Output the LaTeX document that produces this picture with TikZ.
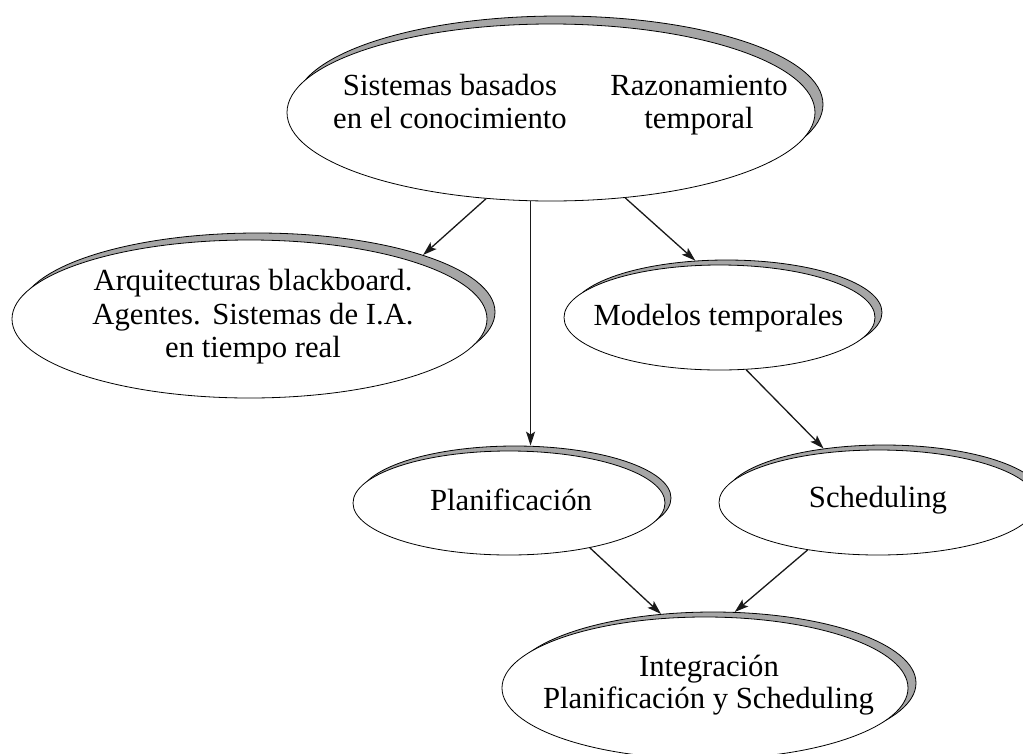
\documentclass[tikz,border=0pt]{standalone}
\usepackage{fontspec}
\setmainfont{Liberation Serif}
\usetikzlibrary{arrows.meta,shapes.geometric}
\begin{document}
\begin{tikzpicture}[x=1pt,y=-1pt,
  ell/.style={ellipse, draw=black, line width=0.8pt, fill=white, inner sep=0pt},
  shd/.style={ellipse, draw=black, line width=0.8pt, fill=gray!70, inner sep=0pt},
  lbl/.style={anchor=base, inner sep=0pt, font=\fontsize{30.7}{33}\selectfont},
  arr/.style={-{Stealth[length=14pt,width=9pt,inset=3pt]}, line width=1.3pt, black!90}]
\fill[white] (0,0) rectangle (1023,753);
\useasboundingbox (0,0) rectangle (1023,753);

% shadows
\node[shd, minimum width=528pt, minimum height=177pt] (Ts) at (559,104.5) {};
\node[shd, minimum width=475pt, minimum height=158pt] (As) at (257.5,312) {};
\node[shd, minimum width=311pt, minimum height=105pt] (Ms) at (726.5,312.5) {};
\node[shd, minimum width=312pt, minimum height=104pt] (Ps) at (515,498) {};
\node[shd, minimum width=318pt, minimum height=105pt] (Ss) at (884,497.5) {};
\node[shd, minimum width=406pt, minimum height=142pt] (Is) at (713,683) {};

% ellipses
\node[ell, minimum width=528pt, minimum height=177pt] (T) at (551,112.5) {};
\node[ell, minimum width=475pt, minimum height=158pt] (A) at (249.5,319) {};
\node[ell, minimum width=311pt, minimum height=105pt] (M) at (719.5,317.5) {};
\node[ell, minimum width=312pt, minimum height=104pt] (P) at (509,503) {};
\node[ell, minimum width=318pt, minimum height=105pt] (S) at (878,502.5) {};
\node[ell, minimum width=406pt, minimum height=142pt] (I) at (705,688) {};

% texts
\node[lbl] (t1a) at (450,95) {Sistemas basados};
\node[lbl] (t1b) at (450,128) {en el conocimiento};
\node[lbl] (t2a) at (699,95) {Razonamiento};
\node[lbl] (t2b) at (699,128) {temporal};
\node[lbl] (a1) at (253,290.5) {Arquitecturas blackboard.};
\node[lbl] (a2) at (253,324) {Agentes.\kern4pt\ Sistemas de I.A.};
\node[lbl] (a3) at (253,357) {en tiempo real};
\node[lbl] (m1) at (718.5,325) {Modelos temporales};
\node[lbl] (p1) at (511,510) {Planificación};
\node[lbl] (s1) at (878,507) {Scheduling};
\node[lbl] (i1) at (709,676) {Integración};
\node[lbl] (i2) at (708.5,708) {Planificación y Scheduling};

% connectors
\draw[arr] (T.233) -- (As.19);
\draw[arr] (T.257.3) -- (T.257.3 |- Ps.north);
\draw[arr] (T.311.7) -- (Ms.121);
\draw[arr] (M.297.6) -- (Ss.141.2);
\draw[arr] (P.331.5) -- (Is.127);
\draw[arr] (S.214.3) -- (Is.73.2);
\end{tikzpicture}
\end{document}
